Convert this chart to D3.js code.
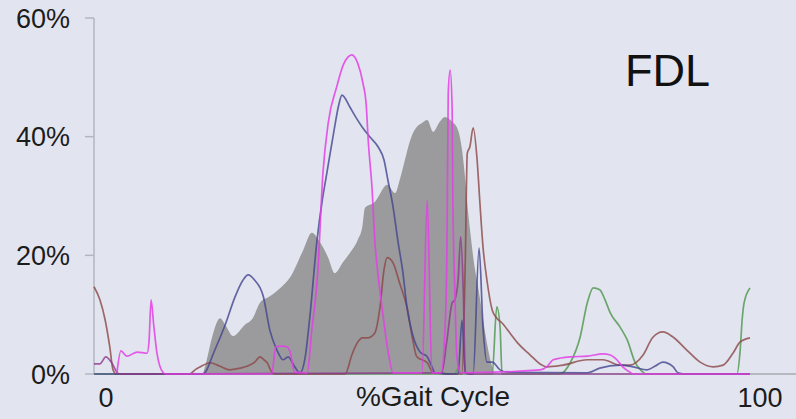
<!DOCTYPE html>
<html>
<head>
<meta charset="utf-8">
<script src="https://cdn.jsdelivr.net/npm/d3@7/dist/d3.min.js"></script>
<style>
  html, body { margin: 0; padding: 0; background: #e2e5ef; }
  svg { display: block; font-family: "Liberation Sans", Arial, Helvetica, sans-serif; }
</style>
</head>
<body>
<svg id="chart" width="796" height="419"></svg>
<script>
// EMG envelope (% of max) over the gait cycle, FDL muscle
const yTicks = [0, 20, 40, 60];
const xTickLabels = ["0", "100"];
const xAxisTitle = "%Gait Cycle";
const muscle = "FDL";

// Reference (normal) activity band, drawn as a filled area
const normalBand = [
  [16.6,0],[17.2,2.4],[18.1,6.6],[19.2,9.4],[20.1,8.1],[21.2,6.4],[23.0,8.3],[24.2,9.4],
  [25.3,12.0],[26.8,13.1],[28.4,14.5],[29.9,16.3],[31.9,20.9],[33.2,23.8],[34.5,22.1],
  [35.7,19.6],[36.7,17.0],[38.0,18.9],[39.0,20.4],[40.2,22.6],[40.9,24.8],[41.3,28.0],
  [42.8,29.0],[44.7,31.9],[45.9,30.5],[46.6,32.7],[47.4,36.1],[48.2,39.4],[49.1,41.5],
  [50.0,42.3],[50.8,42.8],[51.7,40.8],[52.7,42.5],[53.5,43.3],[54.6,42.5],[55.5,41.1],
  [56.1,37.8],[56.6,32.7],[57.0,27.6],[57.5,22.6],[57.9,18.9],[58.5,15.0],[59.1,10.8],
  [59.9,5.2],[60.7,1.2],[61.1,0]
];

const purpleTrial = [
  [0,1.7],[0.9,1.7],[1.8,2.9],[2.7,1.9],[3.5,0.3],[4.0,0],[53.0,0.2],[53.8,5.7],
  [54.6,12.0],[55.0,12.5],[55.5,15.8],[55.9,23.1],[56.3,13.7],[56.6,0.2],[57.2,0],[100,0]
];

const magentaTrial = [
  [3.5,0.2],[4.1,3.9],[5.0,3.0],[6.6,3.7],[8.1,3.5],[8.4,5.7],[8.7,12.5],[9.1,8.3],
  [9.6,3.5],[10.5,0.3],[11.0,0],[27.1,0],[27.7,4.6],[28.7,4.7],[29.4,4.6],[29.9,3.7],
  [30.6,0.3],[32.5,0.2],[33.2,7.4],[34.1,17.0],[34.9,33.9],[35.7,42.3],[37.0,48.4],
  [38.0,52.1],[38.7,53.4],[39.3,53.8],[40.2,52.4],[41.0,49.0],[41.5,45.3],[41.8,39.4],
  [42.4,31.0],[42.8,22.6],[43.3,16.7],[43.9,11.3],[44.8,4.0],[45.6,0.2],[50.0,0.2],
  [50.8,29.3],[51.5,0.2],[52.9,0.2],[53.5,7.4],[53.8,20.9],[54.0,47.4],[54.3,51.2],
  [54.6,44.5],[54.7,29.3],[55.0,14.2],[55.3,3.2],[55.8,0.2],[68.0,0.7],[69.1,1.3],
  [70.0,2.4],[72.6,2.9],[75.2,3.0],[77.6,3.4],[78.7,3.2],[79.7,2.4],[80.6,1.2],
  [81.7,0.3],[82.2,0],[100,0]
];

const navyTrial = [
  [0,0],[16.6,0],[18.4,4.0],[20.0,8.3],[21.5,13.0],[22.7,15.8],[23.5,16.7],[24.5,15.8],
  [25.8,13.1],[26.8,7.4],[27.9,4.0],[28.8,2.4],[29.6,2.9],[30.6,1.2],[31.4,0.2],[32.2,2.9],
  [32.9,9.6],[34.0,22.6],[34.8,29.3],[35.5,33.9],[36.6,41.1],[37.3,45.3],[37.8,47.0],
  [39.0,45.0],[39.9,43.3],[40.9,41.6],[42.1,39.9],[43.3,38.3],[44.2,36.1],[44.8,32.7],
  [45.6,28.1],[46.3,22.6],[47.1,17.0],[47.7,11.3],[48.5,6.9],[49.7,3.7],[50.8,2.9],
  [51.4,1.5],[52.0,0.2],[55.5,0],[56.1,9.1],[56.6,0.2],[57.8,0],[58.7,21.2],[59.3,7.9],
  [59.9,2.0],[60.7,2.0],[61.9,0.7],[63.0,0.3],[75.2,0.2],[77.1,1.0],[80.2,1.5],[82.2,1.2],
  [84.3,0.7],[85.5,1.3],[86.7,2.0],[88.3,1.2],[89.0,0.2],[90,0],[100,0]
];

const brownTrial = [
  [0,14.7],[0.9,12.5],[1.7,9.1],[2.4,4.6],[2.9,0.7],[3.4,0],[14.6,0],[15.4,0.7],[16.2,1.2],
  [17.7,1.9],[19.2,1.3],[20.7,0.7],[22.3,1.0],[23.3,1.3],[24.5,2.0],[25.3,2.9],[25.9,2.4],
  [26.4,1.9],[27.1,0.3],[27.6,0],[38.3,0],[39.3,3.2],[40.1,5.2],[40.9,6.1],[41.8,6.1],
  [42.8,6.9],[43.6,11.3],[44.2,17.5],[44.7,19.6],[45.6,18.7],[46.6,15.3],[47.7,11.3],
  [48.6,5.7],[49.2,2.9],[50.8,1.9],[51.7,0.2],[56.1,0],[56.6,19.2],[56.9,37.2],[57.3,38.3],
  [57.8,41.5],[58.4,36.1],[58.8,29.3],[59.3,21.4],[59.9,15.8],[60.7,10.8],[61.4,9.4],
  [62.2,8.6],[63.4,6.9],[64.6,5.2],[66.5,3.2],[68.0,1.7],[69.1,1.2],[71.5,1.5],[75.2,2.4],
  [77.6,2.4],[80.2,1.5],[81.7,1.5],[83.7,3.2],[85.2,6.2],[86.7,7.1],[88.3,6.2],[90.4,4.0],
  [92.4,2.0],[94.4,1.2],[95.9,1.5],[97.4,3.5],[98.5,5.4],[100,6.1]
];

const greenTrial = [
  [0,0],[55.0,0],[55.5,1.0],[55.9,0],[60.7,0],[61.4,11.3],[61.9,7.9],[62.2,0],[71.0,0],
  [72.6,1.9],[74.1,6.2],[75.2,12.0],[76.1,14.5],[77.1,14.2],[77.9,12.5],[78.7,10.3],
  [80.2,7.9],[81.3,5.7],[82.5,1.9],[83.7,0.3],[84.0,0],[98.0,0],[98.5,4.0],[98.8,9.1],
  [99.1,12.0],[100,14.5]
];

const svg = d3.select("#chart");
const W = 796, H = 419;
const margin = { left: 94, top: 18, bottom: 45 };
const plotRight = 750;

const x = d3.scaleLinear().domain([0, 100]).range([margin.left, plotRight]);
const y = d3.scaleLinear().domain([0, 60]).range([H - margin.bottom, margin.top]);

// filled normal band
svg.append("path")
  .datum(normalBand)
  .attr("fill", "#9b9b9d")
  .attr("d", d3.area().x(d => x(d[0])).y0(y(0)).y1(d => y(d[1])).curve(d3.curveMonotoneX));

// axes
const axisColor = "#b3b6c0";
svg.append("line")
  .attr("x1", x(0)).attr("x2", W).attr("y1", y(0)).attr("y2", y(0))
  .attr("stroke", "#a9a9b0").attr("stroke-width", 1.5);
svg.append("line")
  .attr("x1", x(0)).attr("x2", x(0)).attr("y1", y(60)).attr("y2", y(0))
  .attr("stroke", axisColor).attr("stroke-width", 1.5);

const yAxis = svg.append("g");
yAxis.selectAll("line").data(yTicks).join("line")
  .attr("x1", x(0) - 9).attr("x2", x(0))
  .attr("y1", d => y(d)).attr("y2", d => y(d))
  .attr("stroke", axisColor).attr("stroke-width", 1.5);
yAxis.selectAll("text").data(yTicks).join("text")
  .attr("x", 70).attr("y", d => y(d)).attr("dy", "0.36em")
  .attr("text-anchor", "end").attr("font-size", 27).attr("fill", "#1c1c1c")
  .text(d => d + "%");

// trial traces
const line = d3.line().x(d => x(d[0])).y(d => y(d[1])).curve(d3.curveMonotoneX);
const traces = [
  { data: greenTrial,   color: "#5d9e5d", opacity: 0.9 },
  { data: brownTrial,   color: "#8c4646", opacity: 0.8 },
  { data: navyTrial,    color: "#43438f", opacity: 0.8 },
  { data: purpleTrial,  color: "#8d3a8f", opacity: 0.8 },
  { data: magentaTrial, color: "#e33fe6", opacity: 0.85 }
];
svg.append("g").selectAll("path").data(traces).join("path")
  .attr("fill", "none")
  .attr("stroke", d => d.color)
  .attr("stroke-opacity", d => d.opacity)
  .attr("stroke-width", 1.7)
  .attr("stroke-linejoin", "round")
  .attr("d", d => line(d.data));

// x labels
svg.append("text").attr("x", x(0) + 12).attr("y", 407)
  .attr("text-anchor", "middle").attr("font-size", 27).attr("fill", "#1c1c1c")
  .text(xTickLabels[0]);
svg.append("text").attr("x", x(100) + 10).attr("y", 407)
  .attr("text-anchor", "middle").attr("font-size", 27).attr("fill", "#1c1c1c")
  .text(xTickLabels[1]);
svg.append("text").attr("x", (x(0) + 12 + x(100) + 10) / 2).attr("y", 406)
  .attr("text-anchor", "middle").attr("font-size", 28).attr("fill", "#1c1c1c")
  .text(xAxisTitle);

// muscle name
svg.append("text").attr("x", 625).attr("y", 86)
  .attr("font-size", 45).attr("fill", "#111")
  .text(muscle);
</script>
</body>
</html>
